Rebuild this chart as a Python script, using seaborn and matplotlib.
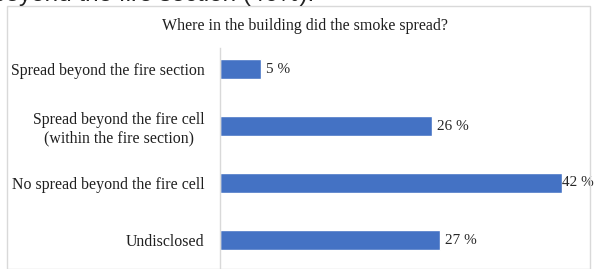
import pandas as pd
import seaborn as sns
import matplotlib.pyplot as plt
from matplotlib.patches import Rectangle

# data
categories = ['Spread beyond the fire section',
              'Spread beyond the fire cell\n(within the fire section)',
              'No spread beyond the fire cell',
              'Undisclosed']
values = [5, 26, 42, 27]
value_labels = ['5 %', '26 %', '42 %', '27 %']

df = pd.DataFrame({'category': categories, 'value': values})

sns.set_style('white')
plt.rcParams['font.family'] = ['Liberation Serif', 'DejaVu Serif']

W, H = 596, 269
fig = plt.figure(figsize=(W / 100, H / 100), dpi=100)

# axes placed so that 0 sits at x=220 px and 42 % at x=562 px
ax = fig.add_axes([220 / W, 1 - 268.5 / H, (562 - 220) / W, (268.5 - 40.5) / H])
sns.barplot(data=df, x='value', y='category', color='#4472C4', width=0.35,
            saturation=1, ax=ax, orient='h')

ax.set_xlim(0, 42)
ax.set_ylim(3.5, -0.5)
ax.set_xlabel('')
ax.set_ylabel('')
ax.set_xticks([])
ax.tick_params(axis='y', length=0, pad=11, labelsize=11.4, labelcolor='#1f1f1f')
for lbl in ax.get_yticklabels():
    lbl.set_horizontalalignment('right')
    lbl.set_multialignment('center')

for s in ['top', 'right', 'bottom']:
    ax.spines[s].set_visible(False)
ax.spines['left'].set_color('#d9d9d9')
ax.spines['left'].set_linewidth(1)
ax.spines['left'].set_bounds(-0.37, 3.5)

for i, (v, t) in enumerate(zip(values, value_labels)):
    ax.text(v + 0.6 if v < 40 else v, i, t, va='center', ha='left',
            fontsize=11, color='#262626', clip_on=False)

fig.text(305 / W, 1 - 26 / H, 'Where in the building did the smoke spread?',
         ha='center', va='center', fontsize=11.5, color='#1f1f1f')

# chart border
fig.patches.append(Rectangle((7 / W, 0), (590 - 7) / W, 1 - 6 / H,
                             transform=fig.transFigure, fill=False,
                             edgecolor='#d9d9d9', linewidth=1))

# caption text from the page above, cut off by the top edge as in the source
fig.text(-8 / W, 1 - 1.5 / H, 'beyond the fire section (46%).', ha='left',
         va='baseline', fontsize=17.5, family=['Liberation Sans', 'DejaVu Sans'],
         color='#222222')

fig.savefig('out.png', dpi=100)
